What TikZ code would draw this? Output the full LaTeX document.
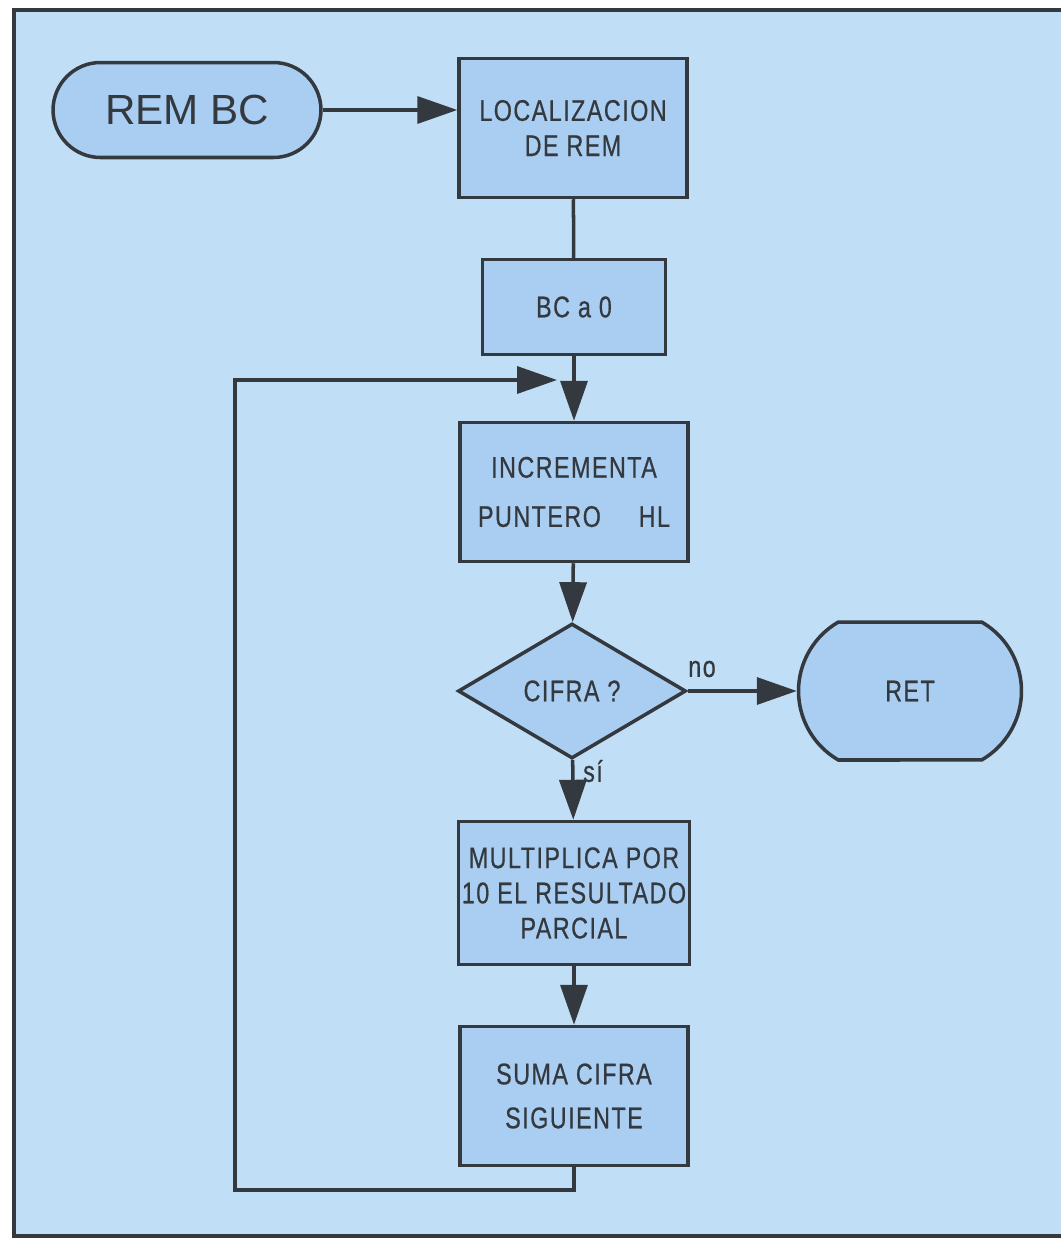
\documentclass[tikz,border=0pt]{standalone}
\usepackage{fontspec}
\setmainfont{Liberation Sans}
\newfontfamily\rotulo[FakeStretch=0.78,LetterSpace=5,FakeBold=0.6]{Liberation Sans}
\usetikzlibrary{arrows.meta,shapes.geometric,shapes.misc}
\definecolor{fondo}{HTML}{C0DFF6}
\definecolor{relleno}{HTML}{AACEF1}
\definecolor{trazo}{HTML}{33393F}
\tikzset{
  caja/.style={draw=trazo,line width=2pt,fill=relleno,align=center,inner sep=2pt,
               font=\rotulo\fontsize{17}{20}\selectfont,text=trazo,
               minimum width=4.56cm,minimum height=2.78cm},
  term/.style={rounded rectangle,draw=trazo,line width=2pt,fill=relleno,align=center,
               text=trazo,inner sep=2pt},
  rombo/.style={diamond,draw=trazo,line width=2pt,fill=relleno,align=center,
                font=\rotulo\fontsize{17}{20}\selectfont,text=trazo,inner sep=0pt,
                aspect=1.69,minimum width=4.56cm,minimum height=2.7cm},
  etiq/.style={font=\rotulo\fontsize{17}{20}\selectfont,text=trazo,inner sep=0pt},
  flecha/.style={-{Triangle[length=0.8cm,width=0.54cm]},line width=2pt,draw=trazo},
  linea/.style={line width=2pt,draw=trazo},
}

\begin{document}
\begin{tikzpicture}[x=0.02cm,y=-0.02cm]

  \useasboundingbox (0,0) rectangle (1061,1241);

  % ---------- FONDO Y MARCO ----------
  \fill[fondo] (14,10) rectangle (1061,1236);
  \draw[trazo,line width=2.6pt] (1061,10) -- (14,10) -- (14,1236) -- (1061,1236);

  % ---------- NODOS ----------
  \node[term,minimum width=5.5cm,minimum height=1.9cm,font=\fontsize{24}{28}\selectfont]
       (rembc) at (187,110) {REM BC};
  \node[caja] (local) at (573,128) {LOCALIZACION\\DE REM};
  \node[caja,minimum width=3.66cm,minimum height=1.9cm] (bca) at (574,307) {BC a 0};
  \node[caja] (incr) at (574,492) {INCREMENTA\\[8pt]PUNTERO\quad\ HL};
  \node[rombo] (cifra) at (572,691) {CIFRA ?};
  \node[term,rounded rectangle arc length=120,minimum width=4.6cm,minimum height=2.76cm,
        font=\rotulo\fontsize{17}{20}\selectfont] (ret) at (910,691) {RET};
  \node[caja,minimum height=2.86cm] (multi) at (574,893)
       {MULTIPLICA POR\\10 EL RESULTADO\\PARCIAL};
  \node[caja] (suma) at (574,1096) {SUMA CIFRA\\[5pt]SIGUIENTE};

  % ---------- ETIQUETAS ----------
  \node[etiq] (no) at (702,669) {no};
  \node[etiq] (si) at (593,771) {sí};

  % ---------- CONECTORES ----------
  \coordinate (lazo) at (235,1190);
  \coordinate (entrada) at (557,380);

  \draw[flecha] (rembc.east) -- (rembc.east -| local.west);
  \draw[linea]  (local) -- (bca);
  \draw[flecha] (bca) -- (incr);
  \draw[flecha] (incr) -- (cifra);
  \draw[flecha] (cifra) -- (ret);
  \draw[flecha] (cifra) -- (multi);
  \draw[flecha] (multi) -- (suma);
  \draw[flecha] (suma.south) |- (lazo) |- (entrada);

\end{tikzpicture}
\end{document}
